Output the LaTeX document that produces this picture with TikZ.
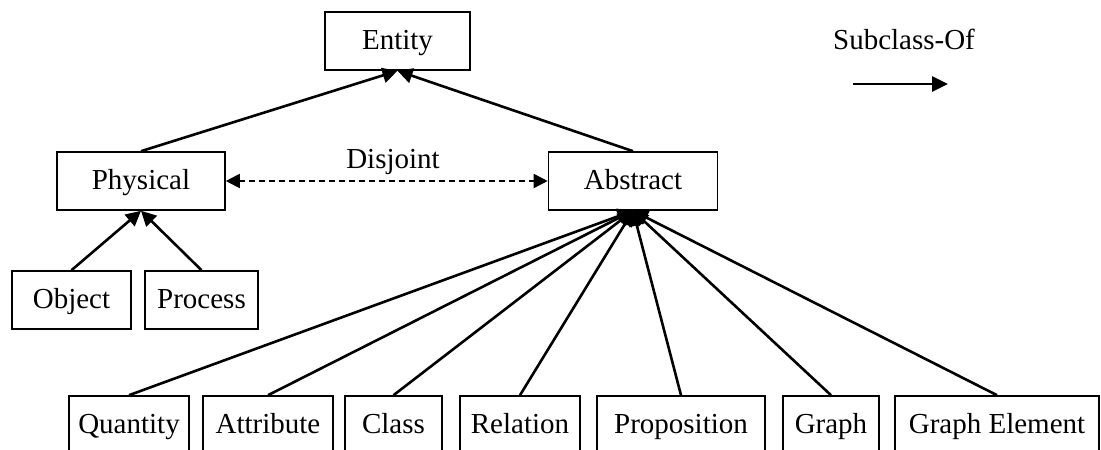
\documentclass[tikz,border=0pt]{standalone}
\usepackage{fontspec}
\setmainfont{Liberation Serif}
\usetikzlibrary{arrows.meta}
\begin{document}
\begin{tikzpicture}[x=1pt,y=-1pt,
  box/.style={draw=black, line width=1.6pt, inner sep=0pt, minimum height=58pt,
    text height=20pt, text depth=3pt, align=center, font=\fontsize{29}{34}\selectfont},
  lbl/.style={inner sep=0pt, text height=20pt, text depth=3pt, font=\fontsize{29}{34}\selectfont},
  sub/.style={line width=2.6pt, -{Triangle[length=15pt,width=15pt]}},
  disj/.style={line width=2pt, dash pattern=on 6pt off 4pt,
    {Triangle[length=14pt,width=14pt]}-{Triangle[length=14pt,width=14pt]}}
]
\useasboundingbox (0,0) rectangle (1101,450);
\clip (0,0) rectangle (1101,450);

% upper nodes
\node[box, minimum width=145pt] (entity) at (397.5,41) {Entity};
\node[box, minimum width=168pt] (physical) at (141,181) {Physical};
\node[box, minimum width=169pt] (abstract) at (633,181) {Abstract};
\node[box, minimum width=119pt] (object) at (71.5,300) {Object};
\node[box, minimum width=113pt] (process) at (201.5,300) {Process};

% bottom nodes (cut by picture edge)
\node[box, minimum width=120pt] (quantity) at (129,425) {Quantity};
\node[box, minimum width=130pt] (attribute) at (268,425) {Attribute};
\node[box, minimum width=97pt] (class) at (393.5,425) {Class};
\node[box, minimum width=120pt] (relation) at (520,425) {Relation};
\node[box, minimum width=168pt] (proposition) at (681,425) {Proposition};
\node[box, minimum width=96pt] (graph) at (831,425) {Graph};
\node[box, minimum width=204pt] (graphel) at (997,425) {Graph Element};

% labels
\node[lbl] (disjlbl) at (393,160) {Disjoint};
\node[lbl] (sublbl) at (904,40.5) {Subclass-Of};

% subclass connectors
\draw[sub] (physical.north) -- (entity.south);
\draw[sub] (abstract.north) -- (entity.south);
\draw[sub] (object.north) -- (physical.south);
\draw[sub] (process.north) -- (physical.south);
\foreach \n in {quantity,attribute,class,relation,proposition,graph,graphel}
  \draw[sub] (\n.north) -- (abstract.south);

% disjoint
\draw[disj] (physical.east) -- (abstract.west);

% legend arrow
\coordinate (legs) at (853,84);
\coordinate (lege) at (948,84);
\draw[line width=2.6pt, -{Triangle[length=16pt,width=15pt]}] (legs) -- (lege);
\end{tikzpicture}
\end{document}
